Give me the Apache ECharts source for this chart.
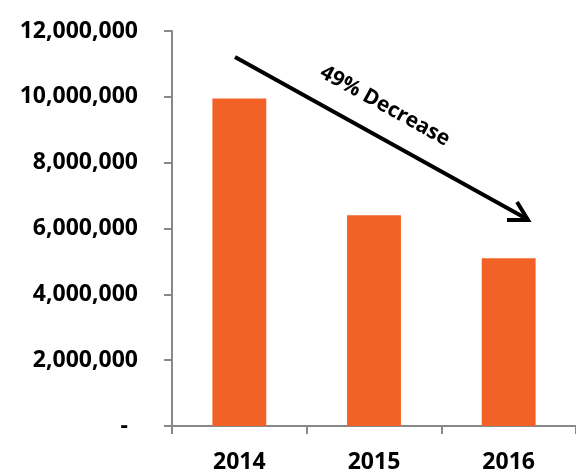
<!DOCTYPE html>
<html>
<head>
<meta charset="utf-8">
<script src="https://cdn.jsdelivr.net/npm/echarts@6/dist/echarts.min.js"></script>
<style>
  html, body { margin: 0; padding: 0; background: #fff; }
  #chart { width: 576px; height: 474px; }
</style>
</head>
<body>
<div id="chart"></div>
<script>
// Yearly totals
const years = ['2014', '2015', '2016'];
const totals = [9950000, 6400000, 5100000];
const annotation = '49% Decrease';

const FONT = 'Open Sans';
const chart = echarts.init(document.getElementById('chart'));

function fmt(v) {
  if (v === 0) return '{dash|-}';
  return v.toLocaleString('en-US');
}

chart.setOption({
  animation: false,
  grid: { left: 172, top: 31, right: -14, bottom: 43, containLabel: false },
  xAxis: {
    type: 'category',
    data: years,
    axisLine: { lineStyle: { color: '#888', width: 2 } },
    axisTick: { show: true, length: 8, lineStyle: { color: '#888', width: 2 } },
    axisLabel: { color: '#000', fontFamily: FONT, fontWeight: 'bold', fontSize: 23, margin: 25 }
  },
  yAxis: {
    type: 'value',
    min: 0, max: 12000000, interval: 2000000,
    splitLine: { show: false },
    axisLine: { show: true, lineStyle: { color: '#888', width: 2 } },
    axisTick: { show: true, length: 8, lineStyle: { color: '#888', width: 2 } },
    axisLabel: {
      color: '#000', fontFamily: FONT, fontWeight: 'bold', fontSize: 23, margin: 34,
      formatter: fmt,
      rich: { dash: { fontFamily: FONT, fontWeight: 'bold', fontSize: 23, color: '#000', padding: [0, 10, 0, 0] } }
    }
  },
  series: [{
    type: 'bar',
    data: totals,
    barCategoryGap: '60%',
    itemStyle: { color: '#F26125' }
  }],
  graphic: [
    { type: 'line', shape: { x1: 235, y1: 57, x2: 527, y2: 219 },
      style: { stroke: '#000', lineWidth: 4 } },
    { type: 'polyline', shape: { points: [[517, 202], [528, 220], [507, 220]] },
      style: { stroke: '#000', lineWidth: 4, fill: null, lineJoin: 'miter' } },
    { type: 'text', x: 385, y: 106, rotation: -29 * Math.PI / 180,
      style: { text: annotation, fontFamily: FONT, fontSize: 21, fontWeight: 'bold', fill: '#000',
               align: 'center', verticalAlign: 'middle' } }
  ]
});
</script>
</body>
</html>
